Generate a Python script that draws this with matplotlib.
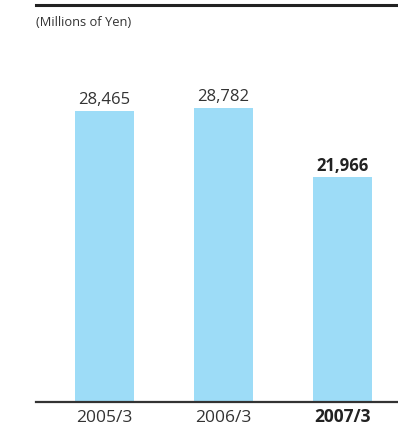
import matplotlib
matplotlib.use('Agg')
import matplotlib.pyplot as plt

years = ['2005/3', '2006/3', '2007/3']
values = [28465, 28782, 21966]
bold = [False, False, True]

plt.rcParams['font.family'] = ['Open Sans', 'DejaVu Sans']

fig = plt.figure(figsize=(3.98, 4.25), dpi=100)
ax = fig.add_axes([36 / 398, 23 / 425, 1 - 36 / 398, 397 / 425])

x = list(range(len(values)))
ax.bar(x, values, width=0.5, color='#9DDCF7')

# value labels above each bar, last year in bold
for xi, v, b in zip(x, values, bold):
    ax.text(xi, v + 650, f'{v:,}', ha='center', va='baseline', fontsize=12,
            color='#222222' if b else '#333333', fontweight='bold' if b else 'normal')

ax.set_xlim(-0.5756, 2.466)
ax.set_ylim(0, 38840)
ax.set_xticks(x)
ax.set_xticklabels(years, fontsize=12.5, color='#333333', va='baseline')
for lbl, b in zip(ax.get_xticklabels(), bold):
    if b:
        lbl.set_fontweight('bold')
        lbl.set_color('#222222')
ax.tick_params(axis='x', length=0, pad=14.4)
ax.set_yticks([])

for s in ['left', 'right']:
    ax.spines[s].set_visible(False)
ax.spines['bottom'].set_linewidth(1.6)
ax.spines['bottom'].set_color('#333333')
ax.spines['top'].set_linewidth(2.2)
ax.spines['top'].set_color('#222222')

fig.text(36 / 398, 1 - 22 / 425, '(Millions of Yen)', fontsize=9.3, color='#333333',
         ha='left', va='center')

fig.savefig('out.png', dpi=100)
